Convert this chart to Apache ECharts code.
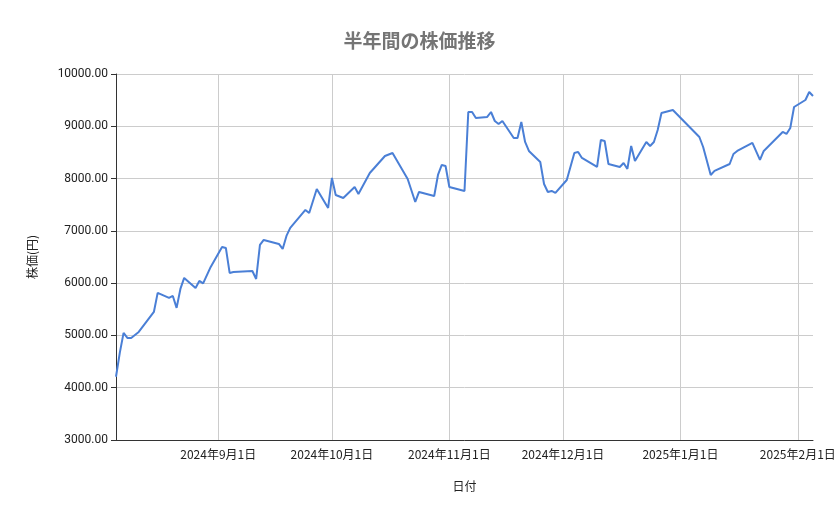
<!DOCTYPE html>
<html><head><meta charset="utf-8">
<script src="https://cdn.jsdelivr.net/npm/echarts@6/dist/echarts.min.js"></script>
<style>html,body{margin:0;padding:0;background:#fff}#c{width:839px;height:519px}</style>
</head><body><div id="c"></div>
<script>
const dates = ['2024-08-05','2024-08-06','2024-08-07','2024-08-08','2024-08-09','2024-08-11','2024-08-13','2024-08-15','2024-08-16','2024-08-19','2024-08-20','2024-08-21','2024-08-22','2024-08-23','2024-08-26','2024-08-27','2024-08-28','2024-08-30','2024-09-02','2024-09-03','2024-09-04','2024-09-05','2024-09-10','2024-09-11','2024-09-12','2024-09-13','2024-09-17','2024-09-18','2024-09-19','2024-09-20','2024-09-24','2024-09-25','2024-09-27','2024-09-30','2024-10-01','2024-10-02','2024-10-04','2024-10-07','2024-10-08','2024-10-11','2024-10-15','2024-10-17','2024-10-21','2024-10-23','2024-10-24','2024-10-28','2024-10-29','2024-10-30','2024-10-31','2024-11-01','2024-11-05','2024-11-06','2024-11-07','2024-11-08','2024-11-11','2024-11-12','2024-11-13','2024-11-14','2024-11-15','2024-11-18','2024-11-19','2024-11-20','2024-11-21','2024-11-22','2024-11-25','2024-11-26','2024-11-27','2024-11-28','2024-11-29','2024-12-02','2024-12-04','2024-12-05','2024-12-06','2024-12-10','2024-12-11','2024-12-12','2024-12-13','2024-12-16','2024-12-17','2024-12-18','2024-12-19','2024-12-20','2024-12-23','2024-12-24','2024-12-25','2024-12-26','2024-12-27','2024-12-30','2025-01-06','2025-01-07','2025-01-09','2025-01-10','2025-01-14','2025-01-15','2025-01-16','2025-01-20','2025-01-22','2025-01-23','2025-01-28','2025-01-29','2025-01-30','2025-01-31','2025-02-03','2025-02-04','2025-02-05'];
const prices = [4210,4666,5048,4952,4952,5067,5258,5449,5813,5717,5755,5526,5889,6100,5908,6042,5994,6310,6692,6673,6195,6214,6233,6080,6730,6826,6750,6654,6903,7056,7400,7342,7801,7438,8012,7686,7629,7839,7706,8107,8432,8490,7992,7553,7744,7667,8069,8260,8240,7839,7763,9273,9273,9159,9178,9273,9101,9044,9101,8776,8776,9082,8700,8528,8317,7897,7744,7763,7725,7973,8490,8510,8394,8222,8738,8719,8279,8222,8298,8184,8623,8337,8700,8623,8700,8929,9254,9312,8795,8604,8069,8146,8279,8470,8528,8681,8356,8528,8891,8853,8968,9369,9503,9656,9579];
const tickDates = ['2024-09-01','2024-10-01','2024-11-01','2024-12-01','2025-01-01','2025-02-01'];
const ts = s => new Date(s + 'T00:00:00').getTime();
const ticks = tickDates.map(ts);
const fmt = v => {const d=new Date(v);return d.getFullYear()+'年'+(d.getMonth()+1)+'月'+d.getDate()+'日';};
const chart = echarts.init(document.getElementById('c'));
chart.setOption({
  animation:false,
  title:{text:'半年間の株価推移',left:'center',top:26,textStyle:{color:'#757575',fontSize:19,fontWeight:'bold',fontFamily:'Noto Sans CJK JP'}},
  grid:{left:116,right:26,top:74,bottom:79},
  xAxis:{type:'value',min:ts('2024-08-05'),max:ts('2025-02-05'),
    name:'日付',nameLocation:'middle',nameGap:40,nameTextStyle:{color:'#222',fontSize:12,fontFamily:'Noto Sans CJK JP'},
    axisLine:{show:true,onZero:false,lineStyle:{color:'#333'}},axisTick:{show:false},
    axisLabel:{show:false},splitLine:{show:false}},
  yAxis:{type:'value',min:3000,max:10000,interval:1000,
    name:'株価(円)',nameLocation:'middle',nameGap:78,nameTextStyle:{color:'#222',fontSize:12,fontFamily:'Noto Sans CJK JP'},
    axisLine:{show:true,lineStyle:{color:'#333'}},
    axisLabel:{color:'#222',fontSize:12,fontFamily:'Roboto',formatter:v=>v.toFixed(2)},
    splitLine:{lineStyle:{color:'#cccccc'}}},
  series:[{type:'line',data:dates.map((d,i)=>[ts(d),prices[i]]),showSymbol:false,z:3,
    lineStyle:{color:'#4a7fd6',width:2},itemStyle:{color:'#4a7fd6'},
    markLine:{silent:true,symbol:'none',z:1,
      label:{show:true,position:'start',distance:8,color:'#222',fontSize:12,fontFamily:'Noto Sans CJK JP',formatter:p=>fmt(p.value)},
      lineStyle:{color:'#cccccc',type:'solid',width:1},data:ticks.map(t=>({xAxis:t}))}}]
});
</script></body></html>
